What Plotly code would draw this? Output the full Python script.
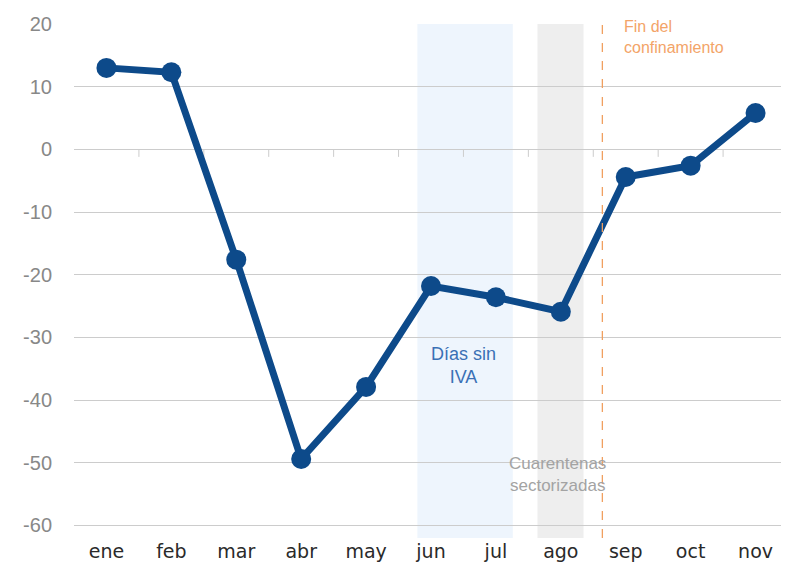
import plotly.graph_objects as go

months = ["ene", "feb", "mar", "abr", "may", "jun", "jul", "ago", "sep", "oct", "nov"]
values = [13.0, 12.3, -17.6, -49.4, -37.9, -21.8, -23.6, -25.9, -4.4, -2.6, 5.8]
y_ticks = [20, 10, 0, -10, -20, -30, -40, -50, -60]
y_tick_text = ["20", "10", "0", "-10", "-20", "-30", "-40", "-50", "-60"]

# periods, in category units (0 = ene)
iva_span = (4.79, 6.26)
cuarentena_span = (6.64, 7.35)
fin_confinamiento = 7.64

LINE_BLUE = "#0d4a8a"
GRID = "#cccccc"

fig = go.Figure()

fig.add_vrect(x0=iva_span[0], x1=iva_span[1], fillcolor="#eef5fd", line_width=0, layer="below")
fig.add_vrect(x0=cuarentena_span[0], x1=cuarentena_span[1], fillcolor="#eeeeee", line_width=0, layer="below")
fig.add_vline(x=fin_confinamiento, line={"color": "#f0a060", "width": 1.3, "dash": "dash"})

# small tick marks on the zero line between months
for k in range(1, len(months)):
    fig.add_shape(type="line", x0=k - 0.5, x1=k - 0.5, y0=0, y1=-1.2,
                  line={"color": GRID, "width": 1}, layer="below")

fig.add_trace(
    go.Scatter(
        x=list(range(len(months))),
        y=values,
        mode="lines+markers",
        line={"color": LINE_BLUE, "width": 7},
        marker={"color": LINE_BLUE, "size": 20},
        showlegend=False,
    )
)

fig.add_annotation(x=5.5, y=-34.4, text="Días sin<br>IVA", showarrow=False,
                   font={"family": "Liberation Sans", "size": 18, "color": "#3a70b5"})
fig.add_annotation(x=6.95, y=-51.8, text="Cuarentenas<br>sectorizadas", showarrow=False,
                   font={"family": "Liberation Sans", "size": 17, "color": "#a3a3a3"})
fig.add_annotation(x=fin_confinamiento + 0.3, y=18.0, text="Fin del<br>confinamiento", showarrow=False,
                   xanchor="left", align="left",
                   font={"family": "Liberation Sans", "size": 16, "color": "#f3a468"})

# the page body adds an 8px offset, so the figure is sized to fit the rest of the window
fig.update_layout(
    width=781,
    height=558,
    paper_bgcolor="white",
    plot_bgcolor="white",
    margin={"l": 66, "r": 1, "t": 16, "b": 28},
)
fig.update_xaxes(
    range=[-0.5, len(months) - 0.5],
    tickmode="array",
    tickvals=list(range(len(months))),
    ticktext=months,
    showgrid=False,
    zeroline=False,
    showline=False,
    ticks="",
    tickfont={"family": "DejaVu Sans", "size": 19, "color": "#2a2a2a"},
)
fig.update_yaxes(
    range=[-62, 20],
    tickmode="array",
    tickvals=y_ticks,
    ticktext=y_tick_text,
    showgrid=True,
    gridcolor=GRID,
    gridwidth=1,
    zeroline=False,
    showline=False,
    ticks="",
    ticklabelstandoff=21,
    tickfont={"family": "Liberation Sans", "size": 20, "color": "#888888"},
)

fig.write_html("out.html")
